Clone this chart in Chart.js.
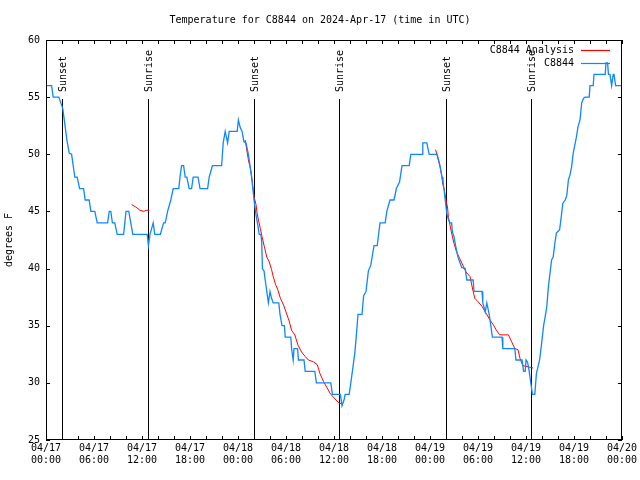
<!DOCTYPE html>
<html>
<head>
<meta charset="utf-8">
<script src="https://cdn.jsdelivr.net/npm/chart.js@4.4.1/dist/chart.umd.min.js"></script>
<style>
  html, body { margin: 0; padding: 0; background: #fff; }
  #wrap { width: 640px; height: 480px; }
</style>
</head>
<body>
<div id="wrap"><canvas id="tempChart" width="640" height="480"></canvas></div>
<script>
// Hours since 2024-04-17 00:00 UTC
const titleText = "Temperature for C8844 on 2024-Apr-17 (time in UTC)";
const seriesNames = ["C8844 Analysis", "C8844"];

const xTickLabels = [
  ["04/17", "00:00"], ["04/17", "06:00"], ["04/17", "12:00"], ["04/17", "18:00"],
  ["04/18", "00:00"], ["04/18", "06:00"], ["04/18", "12:00"], ["04/18", "18:00"],
  ["04/19", "00:00"], ["04/19", "06:00"], ["04/19", "12:00"], ["04/19", "18:00"],
  ["04/20", "00:00"]
];

const sunHours = [2.0, 12.75, 26.0, 36.67, 50.0, 60.67];
const sunLabels = ["Sunset", "Sunrise", "Sunset", "Sunrise", "Sunset", "Sunrise"];

// station observations
const stationHours = [
  0.0, 0.7, 0.9, 1.6, 2.1, 2.4, 2.6, 2.9, 3.2, 3.4, 3.6, 3.9, 4.2, 4.7, 4.9, 5.4, 5.6, 6.1, 6.4, 7.7,
  7.9, 8.1, 8.3, 8.6, 8.9, 9.7, 10.0, 10.35, 10.6, 10.85, 12.65, 12.8, 13.0, 13.4, 13.6, 14.3, 14.7, 14.9, 15.2, 15.6,
  15.9, 16.6, 16.75, 16.95, 17.2, 17.4, 17.6, 17.9, 18.2, 18.4, 19.0, 19.25, 20.2, 20.4, 20.8, 21.95, 22.15, 22.4, 22.7, 22.9,
  23.9, 24.05, 24.25, 24.5, 24.75, 25.0, 25.3, 25.5, 25.7, 25.9, 26.0, 26.25, 26.5, 26.65, 26.85, 26.96, 27.05, 27.25, 27.4, 27.6,
  27.8, 28.0, 28.2, 28.4, 29.1, 29.25, 29.5, 29.8, 29.9, 30.6, 30.7, 30.9, 31.0, 31.45, 31.55, 32.25, 32.4, 33.6, 33.8, 35.6,
  35.8, 36.8, 37.0, 37.25, 37.4, 37.9, 38.1, 38.3, 38.6, 38.8, 39.0, 39.5, 39.7, 40.0, 40.3, 40.6, 41.0, 41.4, 41.75, 42.4,
  42.6, 43.0, 43.5, 43.8, 44.2, 44.5, 45.4, 45.6, 47.0, 47.1, 47.6, 47.9, 48.9, 49.25, 49.6, 49.75, 49.9, 50.1, 50.3, 50.5,
  50.7, 50.8, 51.0, 51.2, 51.5, 51.96, 52.4, 52.6, 53.4, 53.5, 54.5, 54.6, 54.9, 55.1, 55.4, 55.6, 55.8, 57.0, 57.1, 58.6,
  58.75, 59.5, 59.7, 59.9, 60.0, 60.2, 60.4, 60.6, 60.8, 61.1, 61.3, 61.7, 61.96, 62.2, 62.4, 62.6, 62.8, 63.0, 63.2, 63.4,
  63.6, 63.8, 64.2, 64.4, 64.6, 64.9, 65.1, 65.3, 65.5, 65.7, 65.9, 66.1, 66.3, 66.5, 66.75, 66.96, 67.2, 67.4, 67.9, 68.0,
  68.4, 68.5, 69.9, 70.0, 70.2, 70.3, 70.5, 70.7, 70.9, 71.0, 71.2, 72.0
];
const stationTemps = [
  56, 56, 55, 55, 54, 52.4, 51.3, 50.1, 50, 49, 48, 48, 47, 47, 46, 46, 45, 45, 44, 44,
  45, 45, 44, 44, 43, 43, 45, 45, 44, 43, 43, 42, 43, 44, 43, 43, 44, 44, 45, 46,
  47, 47, 48, 49, 49, 48, 48, 47, 47, 48, 48, 47, 47, 48, 49, 49, 51, 52, 51, 52,
  52, 53, 52.4, 52, 51.1, 51, 50, 49, 48, 46.7, 46, 44.7, 43.7, 43, 43, 42.4, 40, 39.8, 39, 38,
  37, 38, 37.4, 37, 37, 36, 35, 35, 34, 34, 33, 32, 33, 33, 32, 32, 31, 31, 30, 30,
  29, 29, 28, 28.5, 29, 29, 30, 31, 32.6, 34.2, 36, 36, 37.6, 38, 39.8, 40.3, 42, 42, 44, 44,
  45, 46, 46, 47, 47.6, 49, 49, 50, 50, 51, 51, 50, 50, 49, 47.6, 47, 46, 44.8, 44.3, 44,
  44, 43.2, 42.8, 42, 41, 40.1, 40, 39, 39, 38, 38, 37, 36.2, 37, 36, 35, 34, 34, 33, 33,
  32, 32, 31, 31, 32, 31.8, 31, 30, 29, 29, 30.8, 32, 33.5, 35, 35.8, 36.7, 38.4, 39.6, 40.75, 41,
  42.2, 43.1, 43.4, 44.5, 45.7, 46, 46.4, 47.75, 48.2, 48.9, 50.1, 50.8, 51.5, 52.4, 53, 54.5, 54.9, 55, 55, 56,
  56, 57, 57, 58, 58, 57, 57, 56, 57, 57, 56, 56
];

// analysis curve (null breaks the line)
const analysisHours = [
  10.7, 11.2, 11.75, 12.25, 12.5, 12.9, 13.0,
  24.9, 25.3, 25.6, 25.8, 26.0, 26.25, 26.4, 26.6, 26.8, 27.0, 27.3, 27.6, 27.9, 28.2, 28.4, 28.7, 29.0, 29.3,
  29.7, 30.0, 30.4, 30.7, 31.1, 31.5, 31.95, 32.4, 32.8, 33.4, 33.9, 34.25, 34.7, 35.1, 35.5, 35.8, 36.25, 36.7, 37.0, 37.1,
  48.7, 49.0, 49.25, 49.5, 49.6, 49.75, 50.0, 50.2, 50.3, 50.5, 50.7, 51.0, 51.3, 51.7, 52.1, 52.5, 53.0, 53.3, 53.6,
  54.0, 54.5, 55.0, 55.5, 55.9, 56.3, 56.7, 57.8, 58.2, 58.6, 59.0, 59.25, 59.6, 60.3, 60.9
];
const analysisTemps = [
  45.6, 45.4, 45.1, 45.0, 45.1, 45.1, null,
  51.25, 49.5, 48.6, 47.5, 46.3, 45.6, 44.8, 44.1, 43.5, 42.8, 41.9, 41.0, 40.6, 39.9, 39.3, 38.6, 38.1, 37.4,
  36.8, 36.2, 35.4, 34.6, 34.2, 33.3, 32.7, 32.3, 32.0, 31.85, 31.6, 30.8, 30.1, 29.6, 29.1, 28.85, 28.5, 28.2, 28.2, null,
  50.4, 49.6, 48.9, 48.0, 47.4, 47.0, 46.0, 45.3, 44.5, 43.8, 43.1, 42.2, 41.5, 40.9, 40.3, 39.7, 39.3, 38.3, 37.4,
  37.1, 36.7, 36.1, 35.5, 35.1, 34.6, 34.2, 34.2, 33.6, 33.0, 32.9, 32.15, 31.5, 31.4, 31.3
];

const FONT = "'DejaVu Sans Mono', 'Liberation Mono', monospace";
const RED = "#ff0000";
const BLUE = "#0f87ff";

function zip(xs, ys) {
  return xs.map((x, i) => ({ x: x, y: ys[i] }));
}

// frame, inward ticks, sun lines, title and legend
const decorations = {
  id: "decorations",
  beforeDatasetsDraw(chart) {
    const ctx = chart.ctx;
    const area = chart.chartArea;
    const xs = chart.scales.x;
    ctx.save();
    ctx.strokeStyle = "#000";
    ctx.lineWidth = 1;
    ctx.fillStyle = "#000";
    ctx.font = "10px " + FONT;
    sunHours.forEach((h, i) => {
      const px = Math.round(xs.getPixelForValue(h)) + 0.5;
      ctx.beginPath();
      ctx.moveTo(px, area.top + 59);
      ctx.lineTo(px, area.bottom);
      ctx.stroke();
      ctx.save();
      ctx.translate(px + 1, area.top + 52);
      ctx.rotate(-Math.PI / 2);
      ctx.textAlign = "left";
      ctx.textBaseline = "middle";
      ctx.fillText(sunLabels[i], 0, 0);
      ctx.restore();
    });
    ctx.restore();
  },
  afterDraw(chart) {
    const ctx = chart.ctx;
    const area = chart.chartArea;
    const xs = chart.scales.x;
    const ys = chart.scales.y;
    ctx.save();
    ctx.strokeStyle = "#000";
    ctx.lineWidth = 1;
    ctx.strokeRect(Math.round(area.left) + 0.5, Math.round(area.top) + 0.5,
      Math.round(area.right - area.left) - 1, Math.round(area.bottom - area.top) - 1);

    ctx.beginPath();
    xs.ticks.forEach(t => {
      const px = Math.round(xs.getPixelForValue(t.value)) + 0.5;
      ctx.moveTo(px, area.bottom);
      ctx.lineTo(px, area.bottom - 4);
      ctx.moveTo(px, area.top);
      ctx.lineTo(px, area.top + 4);
    });
    ys.ticks.forEach(t => {
      const py = Math.round(ys.getPixelForValue(t.value)) + 0.5;
      ctx.moveTo(area.left, py);
      ctx.lineTo(area.left + 4, py);
      ctx.moveTo(area.right, py);
      ctx.lineTo(area.right - 4, py);
    });
    ctx.stroke();

    // title
    ctx.fillStyle = "#000";
    ctx.font = "10px " + FONT;
    ctx.textAlign = "center";
    ctx.textBaseline = "middle";
    ctx.fillText(titleText, 320, 20);

    // legend
    const colors = [RED, BLUE];
    ctx.textAlign = "right";
    seriesNames.forEach((name, i) => {
      const ly = area.top + 10 + i * 13;
      ctx.fillStyle = "#000";
      ctx.fillText(name, area.right - 48, ly);
      ctx.strokeStyle = colors[i];
      ctx.lineWidth = 1.2;
      ctx.beginPath();
      ctx.moveTo(area.right - 41, Math.round(ly) + 0.5);
      ctx.lineTo(area.right - 12, Math.round(ly) + 0.5);
      ctx.stroke();
    });
    ctx.restore();
  }
};

new Chart(document.getElementById("tempChart"), {
  type: "line",
  data: {
    datasets: [
      {
        label: seriesNames[1],
        data: zip(stationHours, stationTemps),
        borderColor: BLUE,
        borderWidth: 1.3,
        pointRadius: 0,
        tension: 0,
        order: 1
      },
      {
        label: seriesNames[0],
        data: zip(analysisHours, analysisTemps),
        borderColor: RED,
        borderWidth: 1,
        pointRadius: 0,
        tension: 0,
        spanGaps: false,
        order: 2
      }
    ]
  },
  options: {
    responsive: false,
    animation: false,
    layout: { padding: { top: 40, right: 18, left: 0, bottom: 0 } },
    plugins: {
      legend: { display: false },
      title: { display: false },
      tooltip: { enabled: false }
    },
    scales: {
      x: {
        type: "linear",
        min: 0,
        max: 72,
        grid: { display: false, drawTicks: false },
        border: { display: false },
        afterFit: scale => { scale.height = 40; },
        ticks: {
          stepSize: 2,
          autoSkip: false,
          maxRotation: 0,
          minRotation: 0,
          padding: 2,
          color: "#000",
          font: { family: FONT, size: 10 },
          callback: v => (v % 6 === 0 ? xTickLabels[v / 6] : "")
        }
      },
      y: {
        min: 25,
        max: 60,
        grid: { display: false, drawTicks: false },
        border: { display: false },
        afterFit: scale => { scale.width = 46; },
        title: {
          display: true,
          text: "degrees F",
          color: "#000",
          font: { family: FONT, size: 10 },
          padding: { top: 3, bottom: 0 }
        },
        ticks: {
          stepSize: 5,
          padding: 6,
          color: "#000",
          font: { family: FONT, size: 10 }
        }
      }
    }
  },
  plugins: [decorations]
});
</script>
</body>
</html>
